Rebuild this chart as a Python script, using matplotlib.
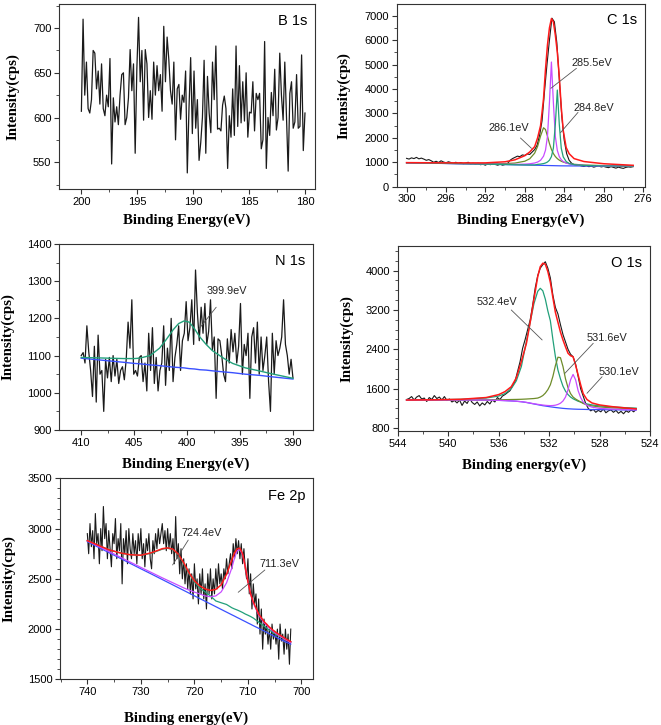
import numpy as np
import matplotlib
matplotlib.use("Agg")
import matplotlib.pyplot as plt
from matplotlib.ticker import MultipleLocator

plt.rcParams['font.family'] = ['Liberation Sans', 'DejaVu Sans']

# ---------------- B 1s ----------------
b_range = (200, 180)
b_counts = [607, 710, 625, 662, 610, 605, 620, 675, 672, 632, 652, 615, 660, 610, 602,
            625, 612, 666, 548, 622, 595, 612, 592, 625, 648, 650, 592, 600, 622, 676,
            630, 660, 560, 655, 712, 640, 675, 597, 676, 660, 600, 630, 598, 662, 625,
            658, 630, 648, 607, 702, 640, 690, 665, 630, 615, 662, 575, 632, 637, 598,
            625, 617, 652, 538, 610, 667, 582, 652, 588, 620, 552, 572, 600, 664, 560,
            646, 605, 583, 662, 620, 680, 587, 588, 585, 614, 624, 610, 543, 602, 578,
            632, 580, 680, 590, 658, 594, 640, 596, 650, 578, 606, 605, 640, 585, 627,
            620, 627, 565, 575, 685, 543, 600, 580, 628, 602, 654, 586, 600, 672, 625,
            597, 662, 600, 540, 627, 640, 588, 595, 648, 588, 590, 670, 563, 605]

# ---------------- C 1s ----------------
c_range = (300, 277)
c_counts = [1160, 1130, 1180, 1150, 1200, 1140, 1170, 1130, 1080, 1110, 1060, 1000,
            1040, 990, 1060, 1010, 980, 1020, 990, 960, 1000, 950, 990, 940, 960, 1000,
            930, 960, 920, 960, 900, 920, 880, 940, 900, 950, 910, 880, 920, 880, 910,
            950, 1080, 1150, 1200, 1250, 1230, 1300, 1280, 1340, 1320, 1420, 1520, 1700,
            2100, 2700, 3900, 5000, 6000, 6900, 6750, 5900, 4400, 2900, 1900, 1350, 1080,
            960, 900, 870, 880, 850, 830, 860, 820, 840, 800, 830, 850, 810, 830, 800,
            780, 820, 790, 760, 800, 770, 750, 790, 810, 800, 820]
c_fit_e = [300, 296, 292, 290, 289, 288, 287.5, 287, 286.7, 286.4, 286.1, 285.9, 285.7,
           285.5, 285.3, 285.1, 284.9, 284.7, 284.5, 284.3, 284.1, 283.8, 283.5, 283,
           282, 280, 277]
c_base = [975, 950, 920, 905, 895, 888, 884, 880, 877, 874, 871, 869, 867, 865, 863, 861,
          859, 857, 855, 854, 853, 852, 851, 850, 848, 845, 840]
c_286 = [978, 957, 938, 946, 967, 1043, 1143, 1374, 1652, 2076, 2412, 2341, 2069, 1768,
         1528, 1355, 1234, 1149, 1087, 1042, 1008, 971, 946, 917, 887, 863, 848]
c_2855 = [976, 952, 926, 917, 914, 924, 938, 970, 1009, 1082, 1248, 1496, 2058, 3450,
          5103, 3446, 2050, 1484, 1232, 1103, 1030, 967, 931, 899, 872, 854, 844]
c_2848 = [977, 952, 922, 908, 899, 893, 891, 889, 914, 925, 946, 970, 1010, 1083, 1230,
          1581, 2557, 3957, 2553, 1574, 1220, 1028, 952, 901, 869, 852, 843]
c_sum = [985, 975, 975, 1020, 1100, 1270, 1420, 1640, 2000, 2500, 3600, 4800, 5800, 6500,
         6880, 6750, 6200, 5500, 4500, 3250, 2300, 1600, 1350, 1150, 1030, 940, 875]

# ---------------- N 1s ----------------
n_range = (410, 390)
n_counts = [1100, 1108, 1080, 1180, 1110, 1060, 990, 1125, 975, 1155, 1050, 1060, 950,
            1090, 1040, 1095, 1030, 1100, 1045, 1090, 1025, 1060, 1070, 1035, 1090, 1190,
            1120, 1250, 1050, 1060, 1045, 1095, 1100, 1030, 1080, 1005, 1160, 1060, 1175,
            1025, 1095, 1005, 1060, 1080, 1180, 1020, 1120, 1060, 1200, 1030, 1095, 1130,
            1180, 1060, 1140, 1160, 1245, 1140, 1175, 1250, 1130, 1330, 1215, 1140, 1230,
            1160, 1240, 1130, 1165, 1250, 1115, 1150, 985, 1145, 1140, 1100, 1050, 1030,
            1145, 1080, 1170, 1110, 1160, 1080, 1125, 1240, 1050, 1130, 1100, 1160, 985,
            1150, 1175, 1080, 1190, 1050, 1150, 1060, 1100, 1150, 1030, 950, 1160, 1050,
            1140, 1100, 1120, 1150, 1250, 1130, 1100, 1050, 1090, 1040]
n_fit_e = [410, 406, 405, 404.5, 403.5, 402.6, 402, 401.3, 400.8, 400.3, 399.8, 399.3,
           398.8, 398.2, 397.6, 396.5, 395.7, 394.5, 393.2, 392, 390]
n_base = [1093, 1082, 1079, 1078, 1075, 1073, 1071, 1069, 1068, 1067, 1065, 1064, 1062,
          1061, 1059, 1056, 1054, 1050, 1047, 1043, 1037]
n_fit = [1095, 1092, 1092, 1093, 1100, 1120, 1142, 1170, 1186, 1193, 1190, 1172, 1150,
         1130, 1113, 1092, 1079, 1067, 1059, 1051, 1039]

# ---------------- O 1s ----------------
o_range = (543.3, 525.1)
o_counts = [1380, 1400, 1440, 1370, 1430, 1460, 1390, 1410, 1340, 1420, 1380, 1460, 1400,
            1430, 1370, 1440, 1360, 1390, 1330, 1360, 1310, 1370, 1260, 1350, 1300, 1400,
            1320, 1280, 1330, 1250, 1310, 1270, 1340, 1290, 1370, 1330, 1420, 1380, 1450,
            1480, 1520, 1560, 1660, 1750, 1950, 2150, 2420, 2600, 2800, 3000, 3300, 3650,
            3900, 4050, 4120, 4180, 4050, 3850, 3500, 3250, 3120, 2900, 2700, 2550, 2400,
            2300, 2250, 2100, 1850, 1600, 1450, 1300, 1200, 1150, 1180, 1120, 1160, 1130,
            1190, 1110, 1150, 1170, 1120, 1160, 1100, 1140, 1090, 1150, 1120, 1170, 1130,
            1180]
o_fit_e = [543.3, 541, 539, 537, 536, 535.5, 535, 534.6, 534.2, 533.8, 533.5, 533.2, 532.9,
           532.7, 532.5, 532.3, 532.1, 531.9, 531.7, 531.5, 531.3, 531.1, 530.9, 530.7,
           530.5, 530.3, 530.1, 529.9, 529.7, 529.5, 529.3, 529.0, 528.6, 528.0, 527, 526,
           525.1]
o_base = [1370, 1370, 1370, 1368, 1363, 1358, 1352, 1345, 1335, 1320, 1305, 1290, 1275,
          1265, 1255, 1248, 1240, 1232, 1225, 1218, 1212, 1206, 1200, 1196, 1192, 1189,
          1186, 1184, 1182, 1181, 1180, 1178, 1176, 1174, 1171, 1168, 1166]
o_5324 = [1370, 1375, 1385, 1410, 1450, 1500, 1600, 1760, 2050, 2560, 2950, 3330, 3580,
          3640, 3590, 3420, 3180, 2980, 2600, 2250, 1980, 1800, 1650, 1550, 1480, 1430,
          1395, 1370, 1345, 1330, 1310, 1290, 1270, 1250, 1230, 1215, 1205]
o_5316 = [1370, 1370, 1370, 1372, 1375, 1377, 1380, 1382, 1385, 1390, 1395, 1400, 1410,
          1430, 1460, 1510, 1580, 1680, 1850, 2070, 2240, 2230, 2050, 1800, 1620, 1500,
          1430, 1390, 1360, 1330, 1300, 1270, 1250, 1230, 1210, 1200, 1195]
o_5301 = [1370, 1370, 1370, 1368, 1363, 1358, 1352, 1345, 1336, 1322, 1308, 1294, 1282,
          1275, 1268, 1262, 1258, 1256, 1258, 1265, 1280, 1305, 1350, 1430, 1580, 1780,
          1890, 1780, 1560, 1420, 1330, 1260, 1225, 1200, 1185, 1175, 1170]
o_sum = [1370, 1375, 1385, 1420, 1480, 1540, 1640, 1820, 2150, 2520, 2950, 3420, 3880,
         4080, 4150, 4130, 3980, 3760, 3450, 3150, 2950, 2750, 2590, 2450, 2320, 2270,
         2250, 2080, 1880, 1680, 1500, 1380, 1310, 1270, 1235, 1210, 1190]

# ---------------- Fe 2p ----------------
fe_range = (740, 702)
fe_counts = [2950, 2750, 3050, 2820, 2980, 2700, 3150, 2850, 2950, 2650, 3000, 2780, 3220,
             2900, 3050, 2700, 2980, 2800, 2620, 2950, 2850, 3100, 2700, 2900, 2780, 3050,
             2450, 2900, 2750, 2980, 2650, 3000, 2800, 2700, 2950, 2750, 2880, 2650, 2950,
             2780, 3000, 2700, 2850, 2620, 2900, 2780, 2950, 2700, 2600, 2880, 2750, 2950,
             2800, 3000, 2850, 2950, 3050, 2850, 2980, 2780, 3000, 2800, 2950, 2750, 2900,
             2650, 3120, 2700, 2850, 2550, 2800, 2500, 2700, 2450, 2650, 2400, 2600, 2350,
             2550, 2300, 2650, 2400, 2500, 2250, 2550, 2350, 2600, 2300, 2450, 2200, 2550,
             2350, 2600, 2300, 2500, 2350, 2600, 2400, 2650, 2450, 2550, 2400, 2600, 2500,
             2700, 2550, 2650, 2750, 2600, 2850, 2700, 2900, 2750, 2880, 2700, 2850, 2650,
             2800, 2600, 2500, 2700, 2350, 2550, 2200, 2450, 2250, 2350, 2050, 2300, 1950,
             2200, 1800, 2100, 1950, 2050, 1850, 2000, 1800, 2050, 1900, 1980, 1850, 2000,
             1700, 2050, 1880, 1950, 1750, 2000, 1800, 1950, 1650, 2000]
fe_fit_e = [740, 738, 736, 734, 732, 730, 728, 726, 725, 724, 723, 722, 721, 720, 719, 718,
            717, 716, 715, 714, 713, 712.5, 712, 711.5, 711, 710.5, 710, 709.5, 709, 708,
            707, 706, 705, 704, 703, 702]
fe_base = [2870, 2816, 2762, 2708, 2654, 2600, 2547, 2493, 2466, 2439, 2412, 2385, 2358,
           2331, 2304, 2277, 2250, 2223, 2196, 2169, 2142, 2129, 2115, 2102, 2088, 2075,
           2061, 2048, 2034, 2008, 1981, 1954, 1927, 1900, 1873, 1850]
fe_7113 = [2880, 2826, 2773, 2720, 2667, 2614, 2562, 2510, 2485, 2460, 2435, 2410, 2388,
           2368, 2350, 2330, 2322, 2330, 2370, 2460, 2610, 2710, 2780, 2790, 2740, 2620,
           2470, 2350, 2260, 2140, 2065, 2010, 1965, 1930, 1895, 1865]
fe_7244 = [2880, 2835, 2790, 2760, 2740, 2735, 2755, 2795, 2805, 2790, 2740, 2650, 2550,
           2470, 2410, 2370, 2330, 2280, 2262, 2245, 2212, 2200, 2190, 2178, 2165, 2150,
           2138, 2125, 2110, 2070, 2030, 1990, 1955, 1925, 1898, 1870]
fe_sum = [2880, 2835, 2790, 2760, 2740, 2735, 2760, 2800, 2808, 2795, 2745, 2660, 2560,
          2480, 2430, 2400, 2385, 2395, 2440, 2545, 2690, 2760, 2800, 2805, 2750, 2620,
          2470, 2350, 2270, 2150, 2075, 2020, 1975, 1940, 1905, 1875]

# peak labels: text, text position, leader start, leader end (data units)
c_labels = [("285.5eV", (281.2, 5050), (282.76, 4845), (285.36, 4027)),
            ("284.8eV", (281.0, 3207), (282.6, 3043), (284.38, 2211)),
            ("286.1eV", (289.6, 2416), (288.44, 1993), (287.32, 1570))]
n_labels = [("399.9eV", (396.25, 1274), (397.25, 1230), (398.9, 1171))]
o_labels = [("532.4eV", (536.1, 3369), (535.0, 3200), (532.55, 2590)),
            ("531.6eV", (527.4, 2624), (528.5, 2523), (530.75, 1912)),
            ("530.1eV", (526.5, 1945), (527.8, 1843), (529.0, 1506))]
fe_labels = [("724.4eV", (718.65, 2953), (721.15, 2886), (724.07, 2638)),
             ("711.3eV", (704.17, 2648), (706.84, 2588), (711.82, 2366))]

RED = '#ff1a1a'
TEAL = '#22a07a'
OLIVE = '#6e8c2a'
VIOLET = '#c84cff'
BLUE = '#3a50ff'
DATA = '#1a1a1a'

fig = plt.figure(figsize=(6.61, 7.25), dpi=100)


def setup(rect, xlim, ylim, xmaj, xmin, ymaj, ymin, xlabel, tag, ylab_x, xlab_y):
    ax = fig.add_axes(rect)
    ax.set_xlim(*xlim)
    ax.set_ylim(*ylim)
    ax.xaxis.set_major_locator(MultipleLocator(xmaj))
    ax.xaxis.set_minor_locator(MultipleLocator(xmin))
    ax.yaxis.set_major_locator(MultipleLocator(ymaj))
    ax.yaxis.set_minor_locator(MultipleLocator(ymin))
    ax.tick_params(which='both', direction='out', top=False, right=False,
                   labelsize=8, color='#333333')
    ax.tick_params(which='major', length=3.5, width=0.8, pad=2)
    ax.tick_params(which='minor', length=2, width=0.6)
    for s in ax.spines.values():
        s.set_color('#333333')
        s.set_linewidth(0.8)
    lab = dict(family='Liberation Serif', fontweight='bold', fontsize=10.7)
    ax.set_xlabel(xlabel, **lab)
    ax.set_ylabel('Intensity(cps)', **lab)
    # ylabel anchor is the right edge of the rotated text
    ax.yaxis.set_label_coords(ylab_x, 0.5)
    ax.xaxis.set_label_coords(0.5, xlab_y)
    ax.text(0.97, 0.91, tag, transform=ax.transAxes, ha='right', va='center',
            fontsize=10.5)
    return ax


def add_labels(ax, labels):
    for text, pos, tail, tip in labels:
        ax.annotate('', xy=tip, xytext=tail,
                    arrowprops=dict(arrowstyle='-', color='#555555', lw=0.6,
                                    shrinkA=0, shrinkB=0))
        ax.text(pos[0], pos[1], text, ha='center', va='center', fontsize=7.8,
                color='#222222')


# B 1s
ax = setup([0.0893, 0.7393, 0.3873, 0.2552], (202, 179.1), (520, 727), 5, 2.5, 50, 25,
           'Binding Energy(eV)', 'B 1s', -0.156, -0.13)
ax.plot(np.linspace(*b_range, len(b_counts)), b_counts, color=DATA, lw=0.9)

# C 1s
ax = setup([0.6002, 0.7425, 0.3756, 0.2520], (301, 275.8), (0, 7480), 4, 2, 1000, 500,
           'Binding Energy(eV)', 'C 1s', -0.187, -0.145)
ax.plot(np.linspace(*c_range, len(c_counts)), c_counts, color=DATA, lw=0.8)
ax.plot(c_fit_e, c_base, color=BLUE, lw=0.9)
ax.plot(c_fit_e, c_286, color=OLIVE, lw=0.9)
ax.plot(c_fit_e, c_2855, color=VIOLET, lw=0.9)
ax.plot(c_fit_e, c_2848, color=TEAL, lw=0.9)
ax.plot(c_fit_e, c_sum, color=RED, lw=1.1)
add_labels(ax, c_labels)

# N 1s
ax = setup([0.0893, 0.4069, 0.3843, 0.2566], (412.1, 388.1), (900, 1400), 5, 2.5, 100, 50,
           'Binding Energy(eV)', 'N 1s', -0.176, -0.15)
ax.plot(np.linspace(*n_range, len(n_counts)), n_counts, color=DATA, lw=0.9)
ax.plot(n_fit_e, n_base, color=BLUE, lw=1.0)
ax.plot(n_fit_e, n_fit, color=TEAL, lw=1.0)
add_labels(ax, n_labels)

# O 1s
ax = setup([0.6017, 0.4055, 0.3817, 0.2552], (544, 524), (740, 4500), 4, 2, 800, 200,
           'Binding energy(eV)', 'O 1s', -0.174, -0.146)
ax.plot(np.linspace(*o_range, len(o_counts)), o_counts, color=DATA, lw=0.8)
ax.plot(o_fit_e, o_base, color=BLUE, lw=0.9)
ax.plot(o_fit_e, o_5324, color=TEAL, lw=0.9)
ax.plot(o_fit_e, o_5316, color=OLIVE, lw=0.9)
ax.plot(o_fit_e, o_5301, color=VIOLET, lw=0.9)
ax.plot(o_fit_e, o_sum, color=RED, lw=1.1)
add_labels(ax, o_labels)

# Fe 2p
ax = setup([0.0908, 0.0630, 0.3823, 0.2772], (745.1, 697.9), (1500, 3500), 10, 5, 500, 100,
           'Binding energy(eV)', 'Fe 2p', -0.177, -0.158)
ax.plot(np.linspace(*fe_range, len(fe_counts)), fe_counts, color=DATA, lw=0.8)
ax.plot(fe_fit_e, fe_base, color=BLUE, lw=0.9)
ax.plot(fe_fit_e, fe_7244, color=TEAL, lw=0.9)
ax.plot(fe_fit_e, fe_7113, color=VIOLET, lw=0.9)
ax.plot(fe_fit_e, fe_sum, color=RED, lw=1.1)
add_labels(ax, fe_labels)

fig.savefig('out.png', dpi=100)
